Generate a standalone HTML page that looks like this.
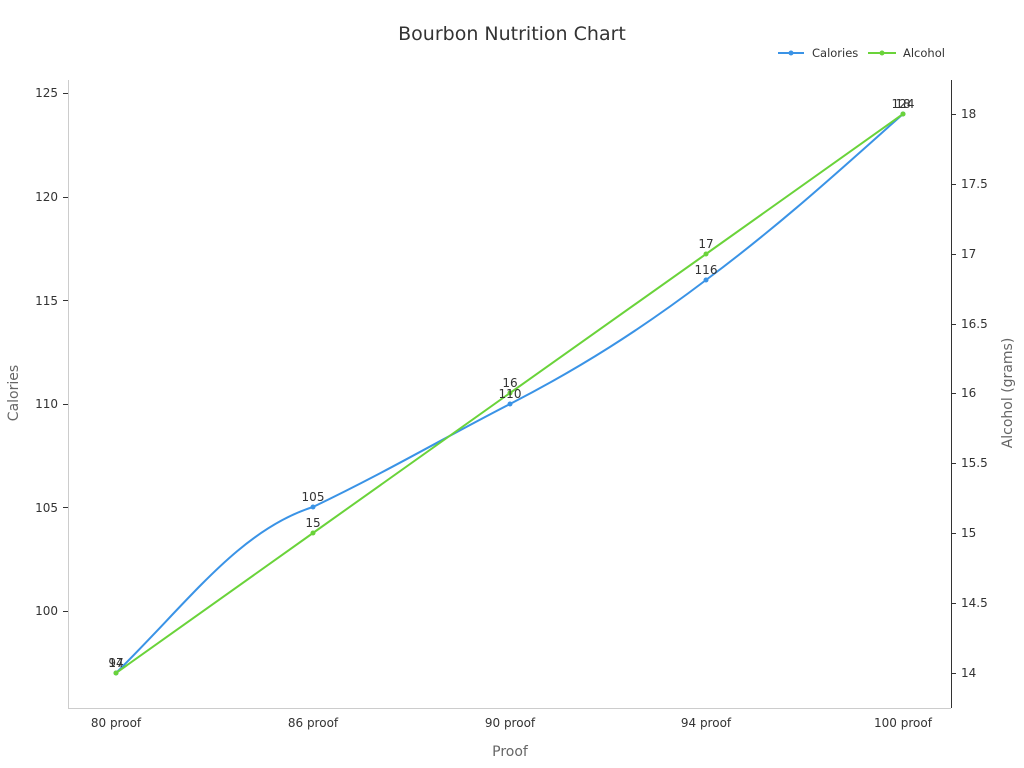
<!DOCTYPE html>
<html><head><meta charset="utf-8"><style>body{margin:0;background:#fff}svg{display:block}</style></head>
<body>
<svg width="1024" height="768" xmlns="http://www.w3.org/2000/svg" font-family="DejaVu Sans, Liberation Sans, sans-serif">
<text x="512" y="40" text-anchor="middle" font-size="19" fill="#333">Bourbon Nutrition Chart</text>
<line x1="778" y1="53" x2="804" y2="53" stroke="#3a93e6" stroke-width="2"/><circle cx="791" cy="53" r="2.5" fill="#3a93e6"/>
<text x="812" y="57" font-size="11.5" fill="#333">Calories</text>
<line x1="868" y1="53" x2="896" y2="53" stroke="#6ad33a" stroke-width="2"/><circle cx="882" cy="53" r="2.5" fill="#6ad33a"/>
<text x="903" y="57" font-size="11.5" fill="#333">Alcohol</text>
<g stroke="#ccc" stroke-width="1">
<line x1="68.5" y1="80" x2="68.5" y2="708"/>
<line x1="68" y1="708.5" x2="951" y2="708.5"/>
</g>
<line x1="951.5" y1="80" x2="951.5" y2="708" stroke="#333"/>
<g font-size="12" fill="#333" text-anchor="end">
<text x="58" y="97">125</text><text x="58" y="201">120</text><text x="58" y="305">115</text><text x="58" y="408">110</text><text x="58" y="512">105</text><text x="58" y="615">100</text>
</g>
<g stroke="#333"><line x1="63" y1="93.5" x2="68" y2="93.5"/><line x1="63" y1="197.5" x2="68" y2="197.5"/><line x1="63" y1="300.5" x2="68" y2="300.5"/><line x1="63" y1="404.5" x2="68" y2="404.5"/><line x1="63" y1="507.5" x2="68" y2="507.5"/><line x1="63" y1="611.5" x2="68" y2="611.5"/>
<line x1="951" y1="114.5" x2="956" y2="114.5"/><line x1="951" y1="184.5" x2="956" y2="184.5"/><line x1="951" y1="254.5" x2="956" y2="254.5"/><line x1="951" y1="324.5" x2="956" y2="324.5"/><line x1="951" y1="393.5" x2="956" y2="393.5"/><line x1="951" y1="463.5" x2="956" y2="463.5"/><line x1="951" y1="533.5" x2="956" y2="533.5"/><line x1="951" y1="603.5" x2="956" y2="603.5"/><line x1="951" y1="673.5" x2="956" y2="673.5"/></g>
<g font-size="12" fill="#333">
<text x="961" y="118">18</text><text x="961" y="188">17.5</text><text x="961" y="258">17</text><text x="961" y="328">16.5</text><text x="961" y="397">16</text><text x="961" y="467">15.5</text><text x="961" y="537">15</text><text x="961" y="607">14.5</text><text x="961" y="677">14</text>
</g>
<g font-size="12" fill="#333" text-anchor="middle">
<text x="116" y="727">80 proof</text><text x="313" y="727">86 proof</text><text x="510" y="727">90 proof</text><text x="706" y="727">94 proof</text><text x="903" y="727">100 proof</text>
</g>
<text x="510" y="756" text-anchor="middle" font-size="14" fill="#666">Proof</text>
<text transform="translate(18,393) rotate(-90)" text-anchor="middle" font-size="14" fill="#666">Calories</text>
<text transform="translate(1012,393) rotate(-90)" text-anchor="middle" font-size="14" fill="#666">Alcohol (grams)</text>
<path d="M116,673 C190,600 240,530 313,507 C390,470 440,440 510,404 C580,368 640,330 706,280 C780,225 840,170 903,114" fill="none" stroke="#3a93e6" stroke-width="2"/>
<polyline points="116,673 313,533 510,393 706,254 903,114" fill="none" stroke="#6ad33a" stroke-width="2"/>
<g fill="#3a93e6"><circle cx="116" cy="673" r="2.5"/><circle cx="313" cy="507" r="2.5"/><circle cx="510" cy="404" r="2.5"/><circle cx="706" cy="280" r="2.5"/><circle cx="903" cy="114" r="2.5"/></g>
<g fill="#6ad33a"><circle cx="116" cy="673" r="2.5"/><circle cx="313" cy="533" r="2.5"/><circle cx="510" cy="393" r="2.5"/><circle cx="706" cy="254" r="2.5"/><circle cx="903" cy="114" r="2.5"/></g>
<g font-size="12" fill="#333" text-anchor="middle">
<text x="116" y="667">97</text><text x="313" y="501">105</text><text x="510" y="398">110</text><text x="706" y="274">116</text><text x="903" y="108">124</text>
<text x="116" y="667">14</text><text x="313" y="527">15</text><text x="510" y="387">16</text><text x="706" y="248">17</text><text x="903" y="108">18</text>
</g>
</svg>
</body></html>
